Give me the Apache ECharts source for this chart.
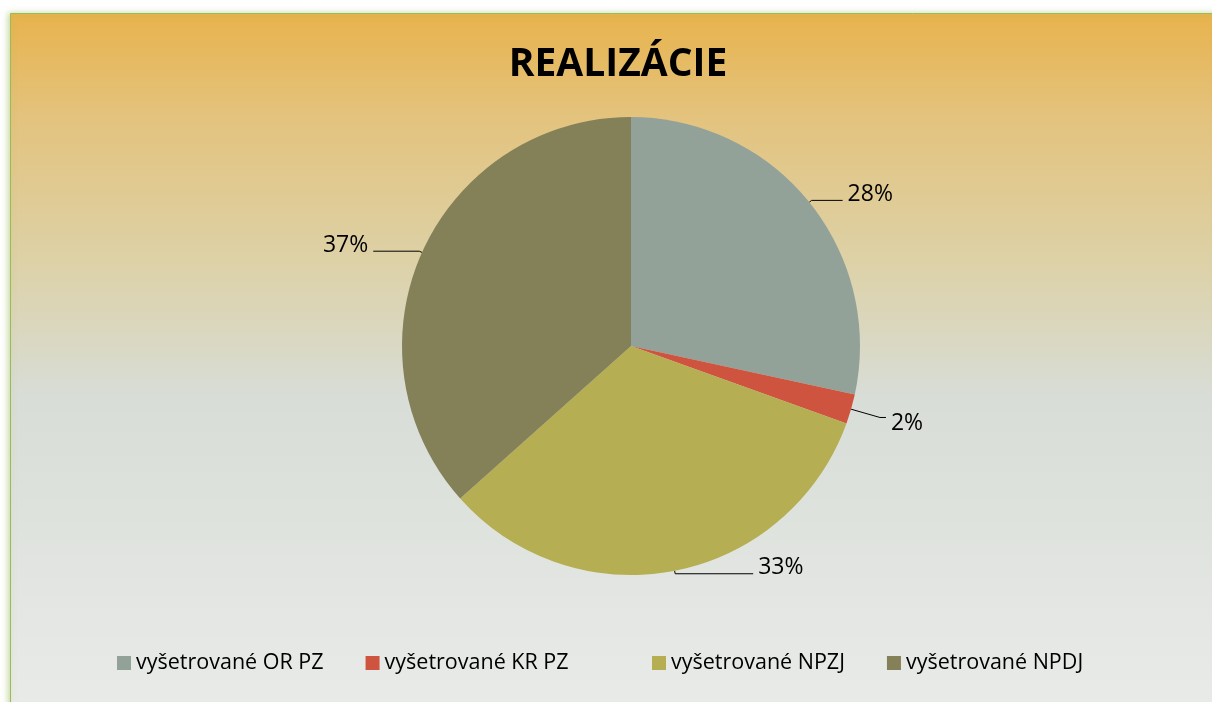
<!DOCTYPE html>
<html>
<head>
<meta charset="utf-8">
<script src="https://cdn.jsdelivr.net/npm/echarts@6/dist/echarts.min.js"></script>
<style>
html,body{margin:0;padding:0;background:#fff;}
#chart{width:1212px;height:702px;}
</style>
</head>
<body>
<div id="chart"></div>
<script>
// Data
var titleText = 'REALIZÁCIE';
var categories = ['vyšetrované OR PZ', 'vyšetrované KR PZ', 'vyšetrované NPZJ', 'vyšetrované NPDJ'];
var values = [28.4, 2.1, 32.9, 36.6];

// Styles (kept separate from data)
var colors = ['#93A299', '#CF543F', '#B5AE53', '#848058'];
var lineLen1 = [3, 30, 3, 3];
var lineLen2 = [31, 6, 78, 46];
var labelAbove = [true, false, true, true];

var chart = echarts.init(document.getElementById('chart'), null, {renderer: 'canvas'});

var pieData = categories.map(function (name, i) {
  return {
    name: name,
    value: values[i],
    itemStyle: {color: colors[i]},
    label: {formatter: labelAbove[i] ? '{t|{d}%}\n{s|}' : '{s|}\n{t|{d}%}'},
    labelLine: {length: lineLen1[i], length2: lineLen2[i]}
  };
});

function legendAt(left, names) {
  return {
    data: names,
    left: left,
    top: 652,
    padding: 0,
    icon: 'rect',
    itemWidth: 14,
    itemHeight: 14,
    itemGap: 42,
    textStyle: {
      fontFamily: 'Open Sans',
      fontSize: 21.5,
      color: '#000000'
    }
  };
}

var option = {
  animation: false,
  backgroundColor: '#ffffff',
  graphic: [{
    type: 'rect',
    z: -10,
    silent: true,
    shape: {x: 10.5, y: 13.5, width: 1210, height: 700},
    style: {
      fill: new echarts.graphic.LinearGradient(0, 0, 0, 1, [
        {offset: 0, color: '#E8B34D'},
        {offset: 0.15, color: '#E3C37E'},
        {offset: 0.35, color: '#DDD1A6'},
        {offset: 0.55, color: '#D8DDD7'},
        {offset: 1, color: '#E9EBE8'}
      ]),
      stroke: '#9BBB59',
      lineWidth: 1,
      shadowBlur: 6,
      shadowColor: 'rgba(155,187,89,0.6)',
      shadowOffsetX: -2,
      shadowOffsetY: 0
    }
  }],
  title: {
    text: titleText,
    left: 613,
    textAlign: 'center',
    top: 40,
    textStyle: {
      fontFamily: 'Open Sans',
      fontWeight: 'bold',
      fontSize: 39,
      color: '#000000'
    }
  },
  legend: [
    legendAt(117, categories.slice(0, 2)),
    legendAt(652, categories.slice(2))
  ],
  series: [{
    type: 'pie',
    center: [631, 346],
    radius: 229,
    startAngle: 90,
    clockwise: true,
    avoidLabelOverlap: false,
    percentPrecision: 0,
    emphasis: {disabled: true},
    itemStyle: {borderWidth: 0},
    label: {
      show: true,
      position: 'outside',
      fontFamily: 'Open Sans',
      fontSize: 23,
      color: '#000000',
      distanceToLabelLine: 5,
      rich: {
        t: {fontFamily: 'Open Sans', fontSize: 23, lineHeight: 26, color: '#000000'},
        s: {fontSize: 1, lineHeight: 12}
      }
    },
    labelLine: {
      show: true,
      lineStyle: {color: '#000000', width: 1}
    },
    data: pieData
  }]
};

chart.setOption(option);
</script>
</body>
</html>
